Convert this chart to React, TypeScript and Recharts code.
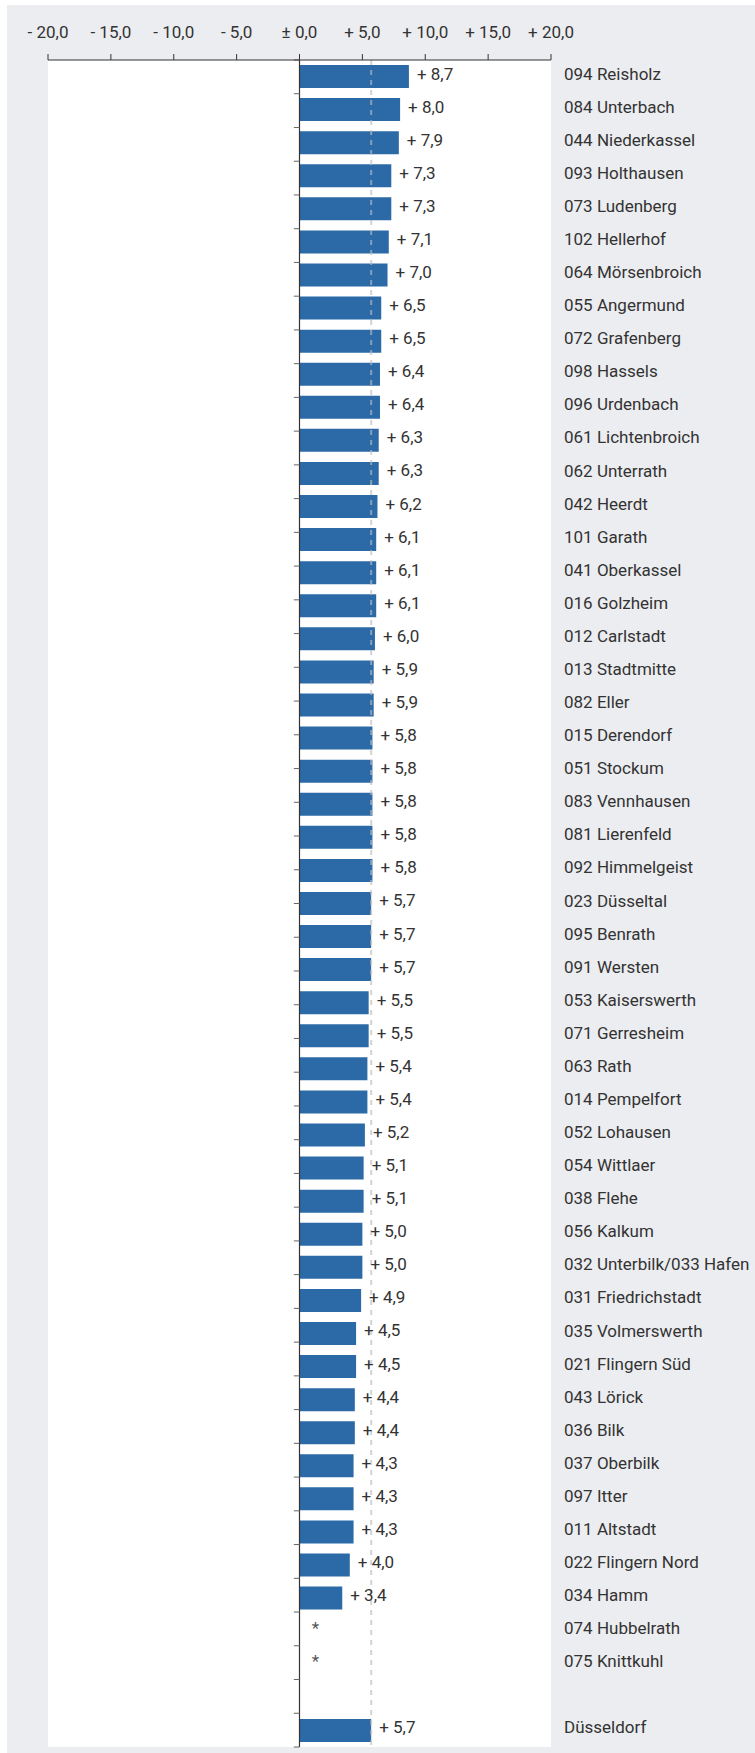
import React from 'react';
import { BarChart, Bar, XAxis, YAxis, CartesianGrid, ReferenceLine, LabelList, Cell } from 'recharts';

// Stadtteile, sorted by change (blank row separates the city total)
const districts = [
  '094 Reisholz', '084 Unterbach', '044 Niederkassel', '093 Holthausen', '073 Ludenberg',
  '102 Hellerhof', '064 Mörsenbroich', '055 Angermund', '072 Grafenberg', '098 Hassels',
  '096 Urdenbach', '061 Lichtenbroich', '062 Unterrath', '042 Heerdt', '101 Garath',
  '041 Oberkassel', '016 Golzheim', '012 Carlstadt', '013 Stadtmitte', '082 Eller',
  '015 Derendorf', '051 Stockum', '083 Vennhausen', '081 Lierenfeld', '092 Himmelgeist',
  '023 Düsseltal', '095 Benrath', '091 Wersten', '053 Kaiserswerth', '071 Gerresheim',
  '063 Rath', '014 Pempelfort', '052 Lohausen', '054 Wittlaer', '038 Flehe',
  '056 Kalkum', '032 Unterbilk/033 Hafen', '031 Friedrichstadt', '035 Volmerswerth', '021 Flingern Süd',
  '043 Lörick', '036 Bilk', '037 Oberbilk', '097 Itter', '011 Altstadt',
  '022 Flingern Nord', '034 Hamm', '074 Hubbelrath', '075 Knittkuhl', ' ', 'Düsseldorf',
];

// change in percent; '*' = no value published, null = spacer row
const changes: (number | '*' | null)[] = [
  8.7, 8.0, 7.9, 7.3, 7.3,
  7.1, 7.0, 6.5, 6.5, 6.4,
  6.4, 6.3, 6.3, 6.2, 6.1,
  6.1, 6.1, 6.0, 5.9, 5.9,
  5.8, 5.8, 5.8, 5.8, 5.8,
  5.7, 5.7, 5.7, 5.5, 5.5,
  5.4, 5.4, 5.2, 5.1, 5.1,
  5.0, 5.0, 4.9, 4.5, 4.5,
  4.4, 4.4, 4.3, 4.3, 4.3,
  4.0, 3.4, '*', '*', null, 5.7,
];

const cityAverage = 5.7;
const xTicks = [-20, -15, -10, -5, 0, 5, 10, 15, 20];

const fmt = (v: number) =>
  v === 0 ? '± 0,0' : (v > 0 ? '+ ' : '- ') + Math.abs(v).toFixed(1).replace('.', ',');

const data = districts.map((name, i) => {
  const c = changes[i];
  return {
    name,
    value: typeof c === 'number' ? c : c === '*' ? 0 : null,
    label: typeof c === 'number' ? fmt(c) : c === '*' ? '*' : '',
  };
});

const renderLabel = (props: any) => {
  const box = props.viewBox ?? props;
  const { x, y, width, height } = box;
  const value = props.value;
  if (!value) return null;
  const cy = y + height / 2 + 3;
  if (value === '*') {
    return (
      <text x={x + 16} y={cy} textAnchor="middle" fill="#555" fontSize={17}>
        *
      </text>
    );
  }
  return (
    <text x={x + width + 8} y={cy} textAnchor="start" fill="#333" fontSize={17}>
      {value}
    </text>
  );
};

// give the "*" rows an invisible stub so their label gets drawn
const stub = (value: any, index: number) => (data[index]?.label === '*' ? 1 : 0);

export default function App() {
  return (
    <div
      style={{
        position: 'absolute',
        left: 7,
        top: 5,
        width: 748,
        height: 1748,
        background: '#ECEDF0',
        fontFamily: 'Roboto, sans-serif',
      }}
    >
      <BarChart
        width={748}
        height={1748}
        data={data}
        layout="vertical"
        margin={{ top: 5, right: 0, bottom: 6, left: 41 }}
        barCategoryGap={0}
      >
        <CartesianGrid fill="#fff" stroke="none" horizontal={false} vertical={false} />
        <XAxis
          type="number"
          orientation="top"
          domain={[-20, 20]}
          ticks={xTicks}
          tickFormatter={fmt}
          height={50}
          stroke="#333"
          tickSize={6}
          tickMargin={16}
          tick={{ fill: '#333', fontSize: 17 }}
        />
        <YAxis
          type="category"
          dataKey="name"
          orientation="right"
          width={204}
          interval={0}
          axisLine={false}
          tickLine={false}
          tickSize={6}
          tickMargin={7}
          tick={{ fill: '#333', fontSize: 17, dy: -3 }}
        />
        <YAxis yAxisId="rows" type="number" domain={[0, districts.length]} reversed hide />
        <Bar dataKey="value" fill="#2B6AA7" barSize={23} minPointSize={stub} isAnimationActive={false}>
          {data.map((d, i) => (
            <Cell key={i} fill={d.label === '*' ? 'transparent' : '#2B6AA7'} />
          ))}
          <LabelList dataKey="label" content={renderLabel} />
        </Bar>
        <ReferenceLine
          x={cityAverage}
          stroke="#bbb"
          strokeOpacity={0.65}
          strokeWidth={2}
          strokeDasharray="5 5"
        />
        <ReferenceLine x={0} stroke="#333" strokeWidth={1.2} />
        {districts.map((_, i) => (
          <ReferenceLine
            key={'t' + i}
            yAxisId="rows"
            segment={[{ x: -0.45, y: i }, { x: 0, y: i }]}
            stroke="#666"
          />
        ))}
        <ReferenceLine
          yAxisId="rows"
          segment={[{ x: -0.45, y: districts.length }, { x: 0, y: districts.length }]}
          stroke="#666"
        />
      </BarChart>
    </div>
  );
}
